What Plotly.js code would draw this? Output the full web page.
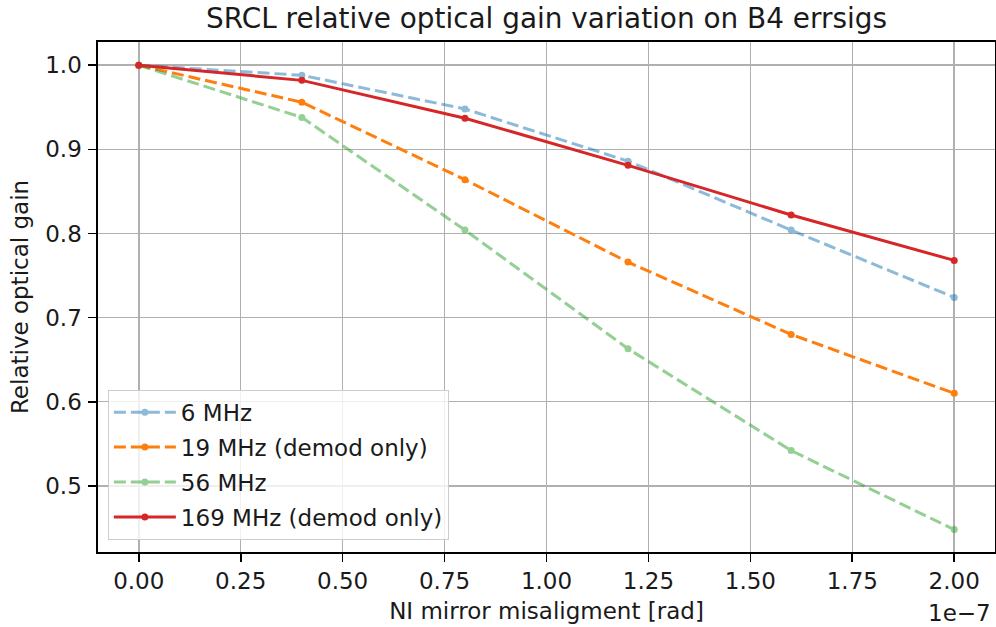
<!DOCTYPE html>
<html>
<head>
<meta charset="utf-8">
<script src="https://cdn.plot.ly/plotly-3.0.1.min.js"></script>
<style>html,body{margin:0;padding:0;background:#fff}#chart{width:996px;height:627px}</style>
</head>
<body>
<div id="chart"></div>
<script>
const misalignment = [0, 4e-8, 8e-8, 1.2e-7, 1.6e-7, 2e-7];
const gain6 = [1.0, 0.988, 0.948, 0.886, 0.804, 0.724];
const gain19 = [1.0, 0.956, 0.864, 0.766, 0.680, 0.610];
const gain56 = [1.0, 0.938, 0.804, 0.663, 0.542, 0.448];
const gain169 = [1.0, 0.982, 0.937, 0.881, 0.822, 0.768];
const seriesNames = ["6 MHz", "19 MHz (demod only)", "56 MHz", "169 MHz (demod only)"];
const xTickVals = [0, 0.25e-7, 0.5e-7, 0.75e-7, 1.0e-7, 1.25e-7, 1.5e-7, 1.75e-7, 2.0e-7];
const xTickText = ["0.00", "0.25", "0.50", "0.75", "1.00", "1.25", "1.50", "1.75", "2.00"];
const yTickVals = [0.5, 0.6, 0.7, 0.8, 0.9, 1.0];
const yTickText = ["0.5", "0.6", "0.7", "0.8", "0.9", "1.0"];

const FONT = "DejaVu Sans, sans-serif";
const TXT = "#1a1a1a";
const dash = "12px,5px";
function tr(y, name, color, dashed, op, grp) {
  return {
    x: misalignment, y: y, name: name, type: "scatter", mode: "lines+markers",
    line: {color: color, width: 3, dash: dashed ? dash : "solid"},
    marker: {color: color, size: 7},
    opacity: op, legendgroup: grp
  };
}
const data = [
  tr(gain6, seriesNames[0], "#1f77b4", true, 0.5, "a"),
  tr(gain19, seriesNames[1], "#ff7f0e", true, 1, "b"),
  tr(gain56, seriesNames[2], "#2ca02c", true, 0.5, "c"),
  tr(gain169, seriesNames[3], "#d62728", false, 1, "d")
];
const layout = {
  width: 996, height: 627,
  margin: {l: 98, r: 1, t: 42, b: 75},
  paper_bgcolor: "#fff", plot_bgcolor: "#fff",
  font: {family: FONT, size: 23, color: TXT},
  title: {text: "SRCL relative optical gain variation on B4 errsigs", font: {family: FONT, size: 27.9, color: TXT},
          x: 0.5, xref: "paper", xanchor: "center", y: 0.971, yref: "container", yanchor: "middle"},
  xaxis: {
    range: [-0.1e-7, 2.1e-7], tickmode: "array", tickvals: xTickVals, ticktext: xTickText,
    ticks: "outside", ticklen: 8, tickwidth: 1.6, tickcolor: "#000",
    showline: true, linecolor: "#000", linewidth: 1.6, mirror: true,
    showgrid: true, gridcolor: "#b0b0b0", gridwidth: 1.5, zeroline: false,
    tickfont: {family: FONT, size: 23, color: TXT},
    title: {text: "NI mirror misaligment [rad]", font: {family: FONT, size: 23, color: TXT}, standoff: 9},
    automargin: false
  },
  yaxis: {
    range: [0.4214, 1.0276], tickmode: "array", tickvals: yTickVals, ticktext: yTickText,
    ticks: "outside", ticklen: 8, tickwidth: 1.6, tickcolor: "#000",
    showline: true, linecolor: "#000", linewidth: 1.6, mirror: true,
    showgrid: true, gridcolor: "#b0b0b0", gridwidth: 1.5, zeroline: false,
    tickfont: {family: FONT, size: 23, color: TXT}, ticklabelstandoff: 2,
    title: {text: "Relative optical gain", font: {family: FONT, size: 23, color: TXT}, standoff: 10},
    automargin: false
  },
  legend: {
    x: 0.011, y: 0.024, xanchor: "left", yanchor: "bottom",
    bgcolor: "rgba(255,255,255,0.8)", bordercolor: "#cccccc", borderwidth: 1,
    font: {family: FONT, size: 23, color: TXT},
    tracegroupgap: 2, itemwidth: 62
  },
  annotations: [{
    text: "1e\u22127", xref: "paper", yref: "paper", x: 1, y: 0, xanchor: "right", yanchor: "top",
    yshift: -46, xshift: -2, showarrow: false, font: {family: FONT, size: 23, color: TXT}
  }]
};
Plotly.newPlot("chart", data, layout, {displayModeBar: false, staticPlot: true});
</script>
</body>
</html>
